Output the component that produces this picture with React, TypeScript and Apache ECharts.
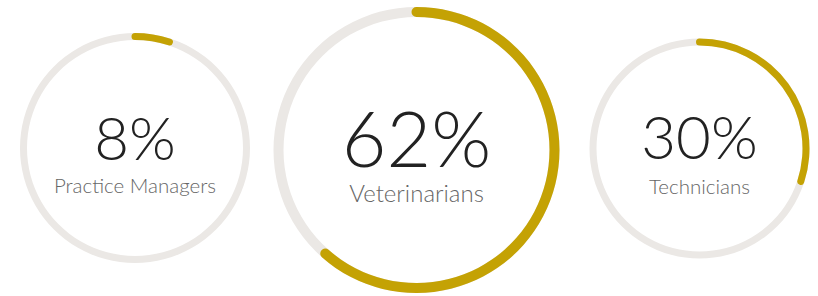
import React, { useEffect, useRef } from "react";
import * as echarts from "echarts";

const categories = ["Practice Managers", "Veterinarians", "Technicians"];
const percentLabels = [8, 62, 30];
const arcValues = [5, 61.5, 30];

const centers: [number, number][] = [
  [135, 148],
  [416.5, 150],
  [699.5, 148.5],
];
const radii = [115, 143, 110];
const widths = [7, 10, 7];
const valueSizes = [60, 77, 60];
const labelSizes = [20.5, 24, 20.5];
const valueOffsets = [-11.5, -13, -12.5];
const labelOffsets = [36.5, 42.5, 37];

const GOLD = "#c4a204";
const GREY = "#ebe8e5";

export default function App() {
  const ref = useRef<HTMLDivElement>(null);
  useEffect(() => {
    if (!ref.current) return;
    const chart = echarts.init(ref.current, undefined, { renderer: "svg" });
    const series = arcValues.map((v, i) => ({
      type: "gauge",
      center: centers[i],
      radius: radii[i],
      startAngle: 90,
      endAngle: -270,
      min: 0,
      max: 100,
      pointer: { show: false },
      progress: {
        show: true,
        roundCap: true,
        width: widths[i],
        itemStyle: { color: GOLD },
      },
      axisLine: {
        lineStyle: { width: widths[i], color: [[1, GREY]] },
      },
      splitLine: { show: false },
      axisTick: { show: false },
      axisLabel: { show: false },
      title: {
        show: true,
        offsetCenter: [0, labelOffsets[i]],
        fontFamily: "Lato",
        fontWeight: 300,
        fontSize: labelSizes[i],
        lineHeight: Math.round(labelSizes[i]),
        color: "#666666",
      },
      detail: {
        show: true,
        offsetCenter: [0, valueOffsets[i]],
        fontFamily: "Lato",
        fontWeight: 300,
        fontSize: valueSizes[i],
        lineHeight: Math.round(valueSizes[i] * 0.8),
        color: "#222222",
        formatter: () => `${percentLabels[i]}%`,
        valueAnimation: false,
      },
      data: [{ value: v, name: categories[i] }],
    }));
    chart.setOption({ animation: false, backgroundColor: "#ffffff", series });
    return () => chart.dispose();
  }, []);
  return (
    <div
      ref={ref}
      style={{ position: "fixed", left: 0, top: 0, width: 818, height: 296 }}
    />
  );
}
